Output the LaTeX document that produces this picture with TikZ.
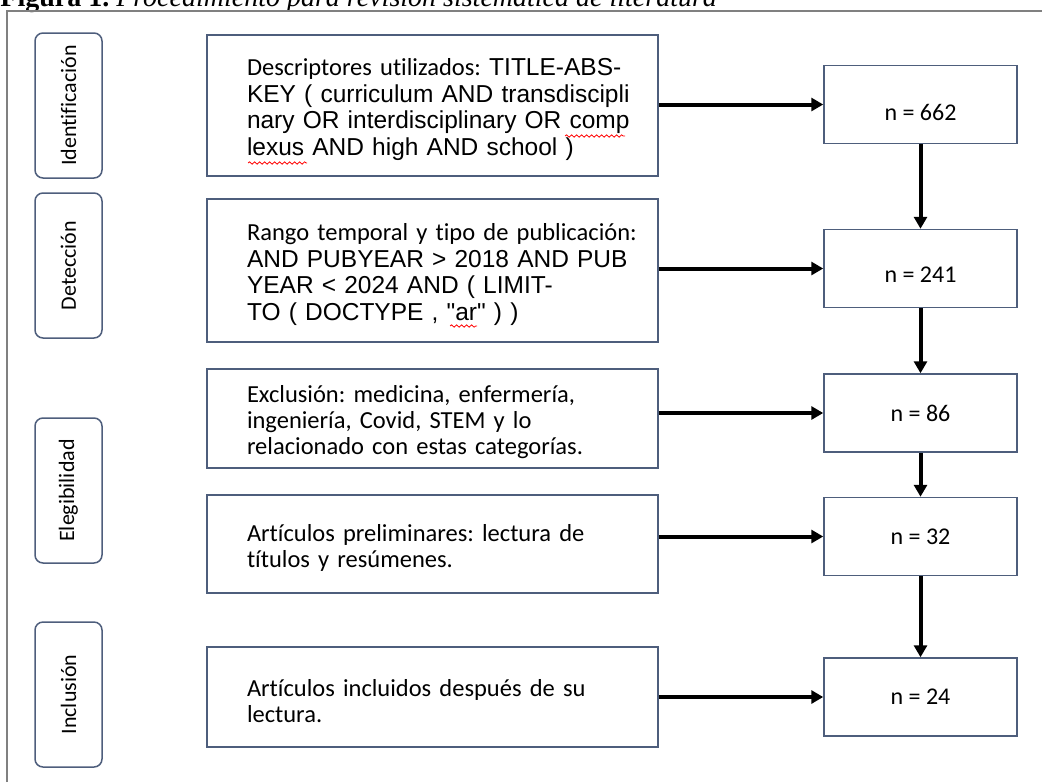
\documentclass[tikz,border=0pt]{standalone}
\usepackage{fontspec}
\usepackage{tikz}
\usetikzlibrary{positioning}
\usetikzlibrary{arrows.meta}
\usetikzlibrary{decorations.pathmorphing}
\newfontfamily\carlito[Ligatures=NoCommon]{Carlito}
\newfontfamily\arialfont{Liberation Sans}
\newfontfamily\timesfont{Liberation Serif}
\definecolor{boxline}{RGB}{78,94,124}
\definecolor{frameline}{RGB}{128,128,128}
\frenchspacing
\tikzset{
phase/.style={ % rounded stage labels on the left
draw=boxline, line width=0.75pt, rounded corners=4pt,
rotate=90, minimum width=72.5pt, minimum height=33.5pt,
font=\carlito\fontsize{11}{13}\selectfont},
query/.style={ % search step boxes
draw=boxline, line width=0.75pt,
minimum width=225.5pt, text width=225.5pt, inner xsep=0pt,
align=left, execute at begin node={\leftskip=20pt\relax\rule{0pt}{12.5pt}},
font=\carlito\fontsize{12.25}{13}\selectfont},
count/.style={ % result boxes
draw=boxline, line width=0.75pt,
minimum width=96.5pt, minimum height=39pt,
font=\carlito\fontsize{12}{14}\selectfont},
spell/.style={ % red wavy underline
red, line width=0.4pt, decorate,
decoration={snake, amplitude=0.6pt, segment length=2.5pt}},
every edge/.style={ % arrows between boxes
draw, line width=2pt,
-{Triangle[length=6pt,width=6.5pt]}}}

\begin{document}
\begin{tikzpicture}[x=0.5pt,y=-0.5pt]
\useasboundingbox (0,0) rectangle (1042,782);
\clip (0,0) rectangle (1042,782);
\node[anchor=base west, inner sep=0pt, font=\timesfont\fontsize{14}{16}\selectfont] (caption) at (0,6.5)
{\textbf{Figura 1.} \textit{Procedimiento para revisión sistemática de literatura}};
\draw[frameline, line width=1pt] (7,782) -- (7,11) -- (1042,11);
% stages
\node[phase] (ident) at (68.5,105.5) {Identificación};
\node[phase] (detec) at (68.5,265.5) {Detección};
\node[phase] (elegi) at (68.5,490.5) {Elegibilidad};
\node[phase] (inclu) at (68.5,694.5) {Inclusión};
% steps
\node[query, minimum height=70.5pt, font=\carlito\fontsize{12.25}{13.35}\selectfont] (b1) at (432.5,105.5)
{Descriptores utilizados: {\arialfont TITLE-ABS-}\\
{\arialfont KEY ( curriculum AND transdiscipli}\\
{\arialfont nary OR interdisciplinary OR comp}\\
{\arialfont lexus AND high AND school )}};
\node[query, minimum height=71.5pt, font=\carlito\fontsize{12.25}{13.35}\selectfont] (b2) at (432.5,270.5)
{Rango temporal y tipo de publicación:\\
{\arialfont AND PUBYEAR > 2018 AND PUB}\\
{\arialfont YEAR < 2024 AND ( LIMIT-}\\
{\arialfont TO ( DOCTYPE , "ar" ) )}};
\node[query, minimum height=49.5pt] (b3) at (432.5,418.5)
{Exclusión: medicina, enfermería,\\
ingeniería, Covid, STEM y lo\\
relacionado con estas categorías.};
\node[query, minimum height=49pt] (b4) at (432.5,544)
{Artículos preliminares: lectura de\\
títulos y resúmenes.};
\node[query, minimum height=50pt] (b5) at (432.5,697)
{Artículos incluidos después de su\\
lectura.};
% spelling marks
\draw[spell] (565,136) -- (625,136);
\draw[spell] (248,163) -- (307,163);
\draw[spell] (450,326) -- (477,326);
% results
\node[count] (n1) at (920.5,104.5) {\raisebox{-8pt}[0pt][0pt]{n = 662}};
\node[count] (n2) at (920.5,268.5) {\raisebox{-7pt}[0pt][0pt]{n = 241}};
\node[count] (n3) at (920.5,413) {n = 86};
\node[count] (n4) at (920.5,536.5) {n = 32};
\node[count] (n5) at (920.5,697) {n = 24};
\draw (b1.east |- n1.west) edge (n1.west);
\draw (b2.east |- n2.west) edge (n2.west);
\draw (b3.east |- n3.west) edge (n3.west);
\draw (b4.east |- n4.west) edge (n4.west);
\draw (b5.east |- n5.west) edge (n5.west);
\draw (n1) edge (n2);
\draw (n2) edge (n3);
\draw (n3) edge (n4);
\draw (n4) edge (n5);
\end{tikzpicture}
\end{document}
